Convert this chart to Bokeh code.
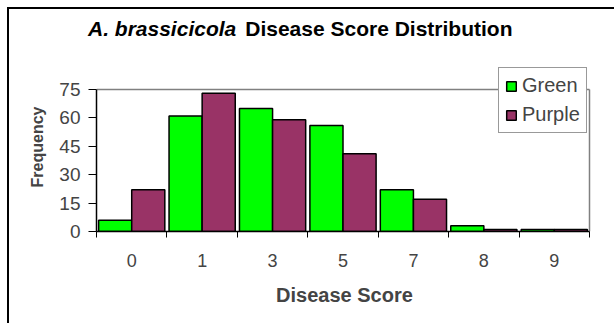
from bokeh.plotting import figure
from bokeh.layouts import column
from bokeh.models import (ColumnDataSource, FixedTicker, Legend, LegendItem, Range1d, Div)
from bokeh.embed import file_html
from bokeh.resources import INLINE

# Disease score categories and counts per line
scores = ["0", "1", "3", "5", "7", "8", "9"]
green = [6, 61, 65, 56, 22, 3, 1]
purple = [22, 73, 59, 41, 17, 1, 1]
y_ticks = [0, 15, 30, 45, 60, 75]

FONT = "Liberation Sans"
W, H = 614, 323
HEAD_H = 62          # height of the title strip
bar_w = 0.47
n = len(scores)
y_top = y_ticks[-1]
centers = [i + 0.5 for i in range(n)]

# ---- title strip: italic species name followed by the bold heading ----
head = Div(
    text=(f'<div style="font-family:\'{FONT}\';font-size:21px;font-weight:bold;'
          'line-height:21px;padding:18px 0 0 88px;white-space:nowrap;color:#000">'
          '<span style="font-style:italic">A. brassicicola</span>'
          '<span style="margin-left:9px">Disease Score Distribution</span></div>'),
    width=W, height=HEAD_H, margin=0,
)

# ---- chart ----
src = ColumnDataSource(dict(
    xg=[c - bar_w / 2 for c in centers],
    xp=[c + bar_w / 2 for c in centers],
    green=green,
    purple=purple,
))

# the frame reaches the top of the chart so the legend sits inside it;
# the plot area itself is 493 x 142 px
CH = H - HEAD_H
BOTTOM = 231 - HEAD_H
FRAME_W, FRAME_H = 496, BOTTOM
PLOT_W, PLOT_H = 493, 142
p = figure(width=W, height=CH, output_backend="svg", toolbar_location=None,
           x_range=Range1d(0, n * FRAME_W / PLOT_W),
           y_range=Range1d(0, y_top * FRAME_H / PLOT_H),
           min_border_left=96, min_border_right=W - 96 - FRAME_W,
           min_border_top=0, min_border_bottom=CH - BOTTOM,
           border_fill_alpha=0, background_fill_alpha=0)
p.frame_width = FRAME_W
p.frame_height = FRAME_H
p.outline_line_color = None
p.xgrid.visible = False
p.ygrid.visible = False

rg = p.vbar(x="xg", top="green", width=bar_w, source=src,
            fill_color="#00FF00", line_color="black", line_width=1.5)
rp = p.vbar(x="xp", top="purple", width=bar_w, source=src,
            fill_color="#993366", line_color="black", line_width=1.5)

# grey plot-area border on top and right
p.segment(x0=[0, n], y0=[y_top, 0], x1=[n, n], y1=[y_top, y_top],
          line_color="#808080", line_width=1.5)

# x axis: labels at category centers, tick marks on category boundaries
xa = p.xaxis[0]
xa.bounds = (0, n)
xa.ticker = FixedTicker(ticks=centers, minor_ticks=list(range(n + 1)))
xa.major_label_overrides = {c: s for c, s in zip(centers, scores)}
xa.major_tick_line_color = None
xa.minor_tick_line_color = "black"
xa.minor_tick_out = 6
xa.minor_tick_in = 0
xa.axis_line_color = "black"
xa.axis_line_width = 1.5
xa.major_label_text_font = FONT
xa.major_label_text_font_size = "18px"
xa.major_label_standoff = 16
xa.axis_label = "Disease Score"
xa.axis_label_text_font = FONT
xa.axis_label_text_font_style = "bold"
xa.axis_label_text_font_size = "20px"
xa.axis_label_standoff = 14

ya = p.yaxis[0]
ya.bounds = (0, y_top)
ya.ticker = FixedTicker(ticks=y_ticks)
ya.minor_tick_line_color = None
ya.major_tick_out = 8
ya.major_tick_in = 0
ya.axis_line_color = "black"
ya.axis_line_width = 1.5
ya.major_label_text_font = FONT
ya.major_label_text_font_size = "19px"
ya.major_label_standoff = 8
ya.axis_label = "Frequency"
ya.axis_label_text_font = FONT
ya.axis_label_text_font_style = "bold"
ya.axis_label_text_font_size = "16px"
ya.axis_label_standoff = 10

legend = Legend(items=[LegendItem(label="Green", renderers=[rg]),
                       LegendItem(label="Purple", renderers=[rp])],
                location=(402, BOTTOM - (133 - HEAD_H)), border_line_color="#333333",
                border_line_width=1, background_fill_alpha=1, label_text_font=FONT,
                label_text_font_size="20px", glyph_width=12, glyph_height=12,
                label_standoff=5, padding=6, spacing=6, margin=0)
p.add_layout(legend)

layout = column(head, p, spacing=0)
# chart-area border (left and top edges)
layout.styles = {
    "background": "linear-gradient(#000,#000) 7px 7px / 2px 100% no-repeat, "
                  "linear-gradient(#000,#000) 7px 7px / 100% 2px no-repeat, #fff",
}

open("out.html", "w").write(file_html(layout, INLINE))
